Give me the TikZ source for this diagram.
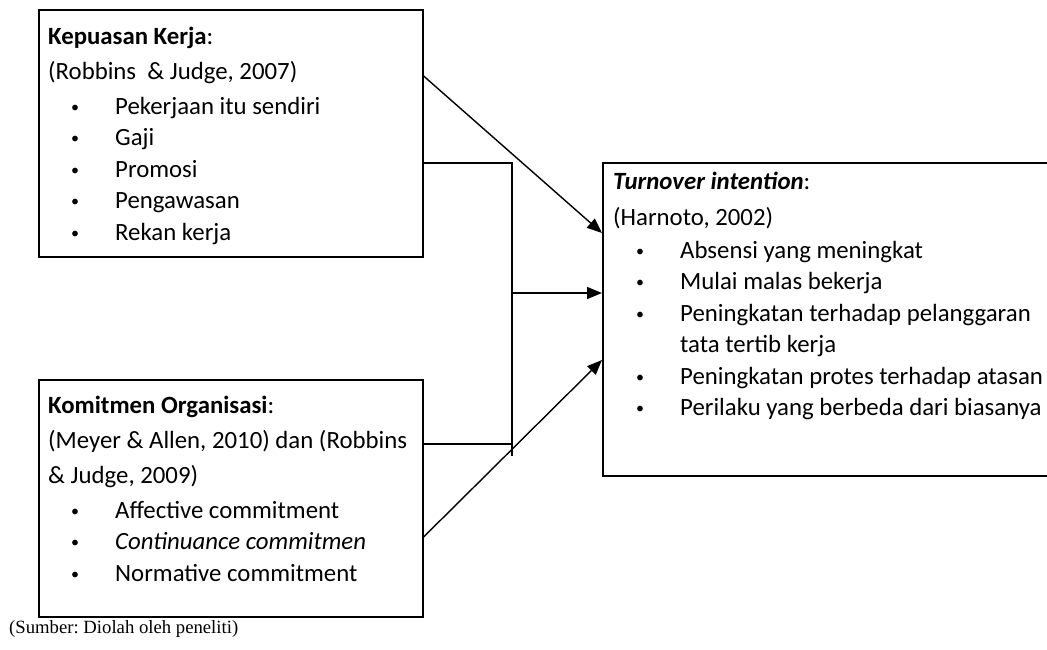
\documentclass[tikz,border=0pt]{standalone}
\usepackage{fontspec}
\setmainfont{Carlito}
\newfontfamily\captionserif{Liberation Serif}
\usetikzlibrary{arrows.meta, positioning}
\frenchspacing

\newcommand{\bul}[1]{\hspace*{21pt}\makebox[12pt][c]{\raisebox{2pt}{\fontsize{16pt}{16pt}\selectfont\textbullet}}\hspace*{34pt}#1}
\newcommand{\cont}[1]{\hspace*{67pt}#1}

\begin{document}
\begin{tikzpicture}[
    x=1pt, y=-1pt,
    frame/.style={rectangle, draw=black, line width=1.6pt, inner sep=0pt, anchor=north west},
    boxtext/.style={anchor=north west, inner sep=0pt, align=left, font=\fontsize{24.8pt}{31.5pt}\selectfont},
    link/.style={line width=1.4pt, black},
    arrow/.style={link, -{Triangle[length=15pt, width=12pt]}}
  ]
  \clip (0,0) rectangle (1047,650);
  % frames
  \node[frame, minimum width=384pt, minimum height=247pt] (kepuasan) at (38,9) {};
  \node[frame, minimum width=384pt, minimum height=237pt] (komitmen) at (38,379) {};
  \node[frame, minimum width=470pt, minimum height=313pt] (turnover) at (602,162) {};
  % texts
  \node[boxtext] (kepuasanTxt) at (48,22) {\strut\textbf{Kepuasan Kerja}:\\[3.5pt]
    (Robbins~ \& Judge, 2007)\\[3.5pt]
    \bul{Pekerjaan itu sendiri}\\
    \bul{Gaji}\\
    \bul{Promosi}\\
    \bul{Pengawasan}\\
    \bul{Rekan kerja}};
  \node[boxtext] (komitmenTxt) at (48,391) {\strut\textbf{Komitmen Organisasi}:\\[3.5pt]
    (Meyer \& Allen, 2010) dan (Robbins\\[3.5pt]
    \& Judge, 2009)\\[3.5pt]
    \bul{Affective commitment}\\
    \bul{\textit{Continuance commitmen}}\\
    \bul{Normative commitment}};
  \node[boxtext] (turnoverTxt) at (613,167) {\strut\textbf{\textit{Turnover intention}}:\\[4.5pt]
    (Harnoto, 2002)\\[1.5pt]
    \bul{Absensi yang meningkat}\\
    \bul{Mulai malas bekerja}\\
    \bul{Peningkatan terhadap pelanggaran}\\
    \cont{tata tertib kerja}\\
    \bul{Peningkatan protes terhadap atasan}\\
    \bul{Perilaku yang berbeda dari biasanya}};
  \node[anchor=base west, inner sep=0pt, font=\captionserif\fontsize{18.7pt}{22pt}\selectfont] (sumber) at (9,633) {(Sumber: Diolah oleh peneliti)};
  % connectors
  \coordinate (jbot) at (512,456);
  \coordinate (jmid) at (512,293);
  \draw[link, line width=1.8pt] ([yshift=-154pt]kepuasan.north east) -| (jbot);
  \draw[link] ([yshift=-65pt]komitmen.north east) coordinate (kout) -- (kout -| jbot);
  \draw[arrow] (jmid) -- (jmid -| turnover.west);
  \draw[arrow] ([yshift=-67pt]kepuasan.north east) -- ([yshift=-71pt]turnover.north west);
  \draw[arrow] ([yshift=-158pt]komitmen.north east) -- ([yshift=-198pt]turnover.north west);
\end{tikzpicture}
\end{document}
